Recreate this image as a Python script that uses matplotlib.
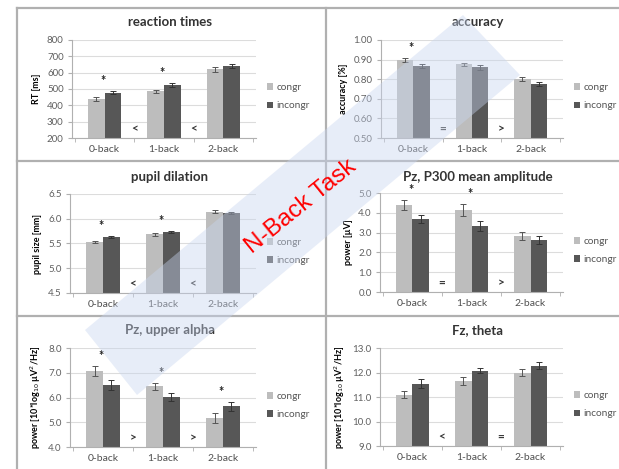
import matplotlib.pyplot as plt
from matplotlib.lines import Line2D
from matplotlib.patches import Polygon
import numpy as np

plt.rcParams['font.family'] = ['Lato', 'DejaVu Sans']

groups = ['0-back', '1-back', '2-back']

rt_congr = [440, 485, 620]
rt_incongr = [478, 525, 640]
rt_err_c = [12, 10, 15]
rt_err_i = [10, 10, 12]

acc_congr = [0.90, 0.875, 0.80]
acc_incongr = [0.865, 0.86, 0.775]
acc_err_c = [0.010, 0.010, 0.010]
acc_err_i = [0.010, 0.012, 0.012]

pupil_congr = [5.53, 5.69, 6.14]
pupil_incongr = [5.63, 5.74, 6.12]
pupil_err_c = [0.03, 0.03, 0.03]
pupil_err_i = [0.02, 0.02, 0.02]

p300_congr = [4.40, 4.15, 2.85]
p300_incongr = [3.70, 3.35, 2.62]
p300_err_c = [0.25, 0.30, 0.20]
p300_err_i = [0.20, 0.25, 0.22]

alpha_congr = [7.07, 6.45, 5.18]
alpha_incongr = [6.52, 6.02, 5.65]
alpha_err_c = [0.20, 0.13, 0.20]
alpha_err_i = [0.20, 0.15, 0.18]

theta_congr = [11.10, 11.65, 12.00]
theta_incongr = [11.55, 12.08, 12.28]
theta_err_c = [0.15, 0.18, 0.15]
theta_err_i = [0.20, 0.12, 0.13]

W, H = 619, 469
C_LIGHT = '#bdbdbd'
C_DARK = '#575757'
LINE = '#b0b0b0'

fig = plt.figure(figsize=(W / 100, H / 100), dpi=100)


def px_axes(left, right, top, bottom):
    return fig.add_axes([left / W, 1 - bottom / H, (right - left) / W, (bottom - top) / H])


def panel(rect, title, title_xy, cong, incong, err_c, err_i, ylim, step, fmt,
          ylabel, stars, signs, leg_y):
    ax = px_axes(*rect)
    x = np.arange(len(groups))
    w = 0.28
    ax.bar(x - w / 2, cong, w, color=C_LIGHT, zorder=2, label='congr')
    ax.bar(x + w / 2, incong, w, color=C_DARK, zorder=2, label='incongr')
    ax.errorbar(x - w / 2, cong, yerr=err_c, fmt='none', ecolor='#555555',
                elinewidth=0.7, capsize=2, capthick=0.7, zorder=3)
    ax.errorbar(x + w / 2, incong, yerr=err_i, fmt='none', ecolor='#333333',
                elinewidth=0.7, capsize=2, capthick=0.7, zorder=3)
    ax.set_xlim(-0.55, 2.55)
    ax.set_ylim(*ylim)
    ticks = np.arange(ylim[0], ylim[1] + step / 2, step)
    ax.set_yticks(ticks)
    ax.set_yticklabels([fmt.format(t) for t in ticks], fontsize=7, color='#606060')
    ax.set_xticks(x)
    ax.set_xticklabels(groups, fontsize=7.5, color='#505050')
    ax.tick_params(axis='x', length=0, pad=5)
    ax.tick_params(axis='y', length=3, color=LINE, pad=3)
    ax.set_xticks([-0.5, 0.5, 1.5, 2.5], minor=True)
    ax.tick_params(axis='x', which='minor', length=3, color=LINE)
    ax.yaxis.grid(True, color='#dcdcdc', lw=0.8, zorder=0)
    ax.set_axisbelow(True)
    for s in ['top', 'right']:
        ax.spines[s].set_visible(False)
    for s in ['left', 'bottom']:
        ax.spines[s].set_color(LINE)
        ax.spines[s].set_linewidth(0.8)
    ax.set_ylabel(ylabel, fontsize=6.5, fontweight='bold', labelpad=4)
    span = ylim[1] - ylim[0]
    for i in stars:
        top = max(cong[i] + err_c[i], incong[i] + err_i[i])
        ax.text(i - 0.03, top + 0.04 * span, '*', ha='center', va='bottom',
                fontsize=9, fontweight='bold', color='#222222')
    for k, s in enumerate(signs):
        ax.text(k + 0.5, 0.09, s, transform=ax.get_xaxis_transform(),
                ha='center', va='center', fontsize=8.5, fontweight='bold', color='#333333')
    ax.legend(loc='center left', bbox_to_anchor=(1.03, leg_y), frameon=False,
              fontsize=7.3, handlelength=0.6, handleheight=0.6, handletextpad=0.4,
              labelspacing=0.9, labelcolor='#555555', borderpad=0)
    fig.text(title_xy[0] / W, 1 - title_xy[1] / H, title, ha='center', va='center',
             fontsize=9.5, fontweight='bold', color='#333333')
    return ax


panel((72, 256, 40, 138), 'reaction times', (170, 22), rt_congr, rt_incongr,
      rt_err_c, rt_err_i, (200, 800), 100, '{:.0f}', 'RT [ms]', [0, 1], ['<', '<'], 0.42)
panel((381, 563, 40, 138), 'accuracy', (478, 22), acc_congr, acc_incongr,
      acc_err_c, acc_err_i, (0.5, 1.0), 0.1, '{:.2f}', 'accuracy [%]', [0], ['=', '>'], 0.42)
panel((70, 256, 194, 293), 'pupil dilation', (170, 177), pupil_congr, pupil_incongr,
      pupil_err_c, pupil_err_i, (4.5, 6.5), 0.5, '{:.1f}', 'pupil size [mm]', [0, 1],
      ['<', '<'], 0.42)
panel((380, 563, 193, 292), 'Pz, P300 mean amplitude', (478, 177), p300_congr,
      p300_incongr, p300_err_c, p300_err_i, (0.0, 5.0), 1.0, '{:.1f}', 'power [µV]',
      [0, 1], ['=', '>'], 0.42)
panel((70, 256, 348, 447), 'Pz, upper alpha', (170, 330), alpha_congr, alpha_incongr,
      alpha_err_c, alpha_err_i, (4.0, 8.0), 1.0, '{:.1f}',
      'power [10*log$_{10}$ µV$^2$/Hz]', [0, 1, 2], ['>', '>'], 0.42)
panel((380, 563, 348, 446), 'Fz, theta', (478, 330), theta_congr, theta_incongr,
      theta_err_c, theta_err_i, (9.0, 13.0), 1.0, '{:.1f}',
      'power [10*log$_{10}$ µV$^2$/Hz]', [], ['<', '='], 0.42)

# panel frame lines
def fline(x0, y0, x1, y1):
    fig.add_artist(Line2D([x0 / W, x1 / W], [1 - y0 / H, 1 - y1 / H],
                          color=LINE, lw=1.6, transform=fig.transFigure))


fline(17, 8, W, 8)
fline(17, 8, 17, H)
fline(326, 8, 326, H)
fline(17, 161, W, 161)
fline(17, 316, W, 316)

# diagonal band with the task label
band = [(85, 330), (463, 15), (520, 75), (137, 395)]
fig.add_artist(Polygon([(bx / W, 1 - by / H) for bx, by in band], closed=True,
                       transform=fig.transFigure, facecolor='#c8d5ef', alpha=0.42,
                       edgecolor='none', zorder=10))
fig.text(301 / W, 1 - 207 / H, 'N-Back Task', rotation=39, ha='center', va='center',
         fontsize=17.5, color='#ff0000', family=['Liberation Sans', 'DejaVu Sans'], zorder=11)

fig.savefig('out.png', dpi=100)
